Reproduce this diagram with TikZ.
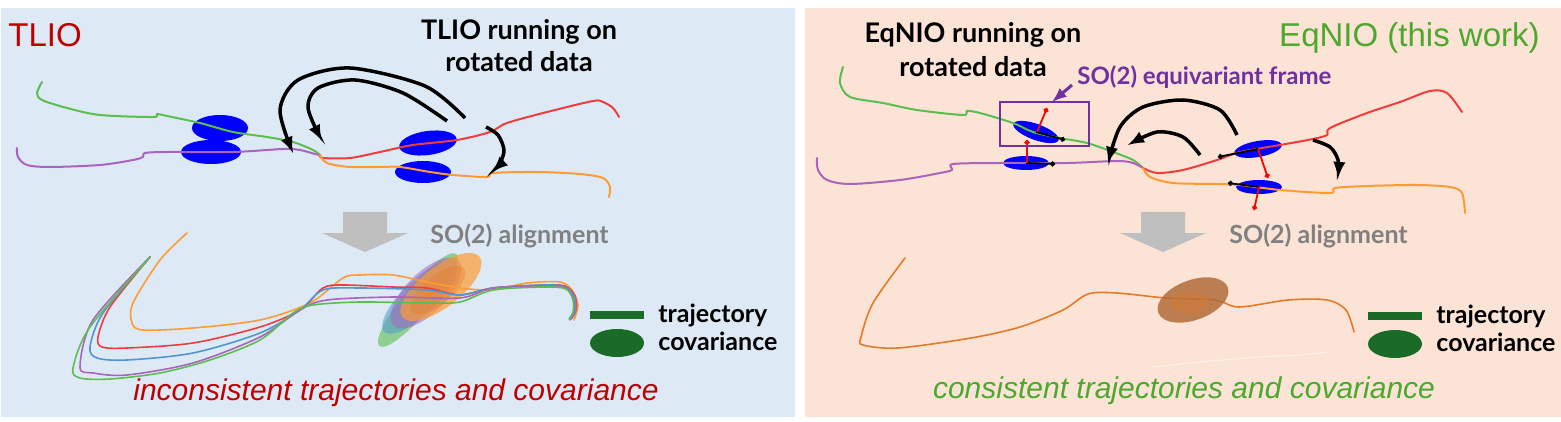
\documentclass[tikz,border=0pt]{standalone}
\usepackage{fontspec}
\usepackage{tikz}
\usetikzlibrary{arrows.meta}
\newfontfamily\arialfont{Liberation Sans}
\newfontfamily\latofont{Lato}
\definecolor{bgblue}{RGB}{221,234,246}
\definecolor{bgpeach}{RGB}{251,227,214}
\definecolor{tliored}{RGB}{192,0,0}
\definecolor{eqgreen}{RGB}{78,167,46}
\definecolor{framepurple}{RGB}{112,48,160}
\definecolor{labgray}{RGB}{128,128,128}
\definecolor{arrowgray}{RGB}{191,191,191}
\definecolor{legendgreen}{RGB}{26,107,40}
\definecolor{ellblue}{RGB}{0,0,255}
\definecolor{trajgreen}{RGB}{92,190,80}
\definecolor{trajpurple}{RGB}{170,100,190}
\definecolor{trajred}{RGB}{240,60,60}
\definecolor{trajorange}{RGB}{255,155,50}
\definecolor{trajblue}{RGB}{80,150,210}
\definecolor{deeporange}{RGB}{228,122,40}
\definecolor{covbrown}{RGB}{178,108,58}

\begin{document}
\begin{tikzpicture}[x=0.5pt,y=-0.5pt,
    traj/.style={line width=1pt, line cap=round, line join=round},
    fine traj/.style={line width=0.8pt, line cap=round, line join=round},
    bent/.style={-latex, line width=1.75pt},
    frametip/.style={-{Circle[length=2.5pt]}, line width=0.9pt},
    labtext/.style={inner sep=0pt, font=\latofont\bfseries\fontsize{13.5}{16}\selectfont},
    legtext/.style={inner sep=0pt, font=\latofont\bfseries\fontsize{12.5}{15}\selectfont},
    sotext/.style={inner sep=0pt, text=labgray, font=\latofont\bfseries\fontsize{12.5}{15}\selectfont},
    headtext/.style={inner sep=0pt, font=\arialfont\fontsize{16.5}{20}\selectfont},
    captext/.style={inner sep=0pt, font=\arialfont\itshape\fontsize{15}{18}\selectfont}]
		\useasboundingbox (0,0) rectangle (1561,422);
		\fill[white] (0,0) rectangle (1561,422);
		\fill[bgblue] (1,8) rectangle (795,417);
		\fill[bgpeach] (805,8) rectangle (1561,417);

		% gray alignment arrows and legends, one per panel
		\foreach \ax in {365,1163} {
			\fill[arrowgray, shift={(\ax,212)}] (-22,0) -- (22,0) -- (22,21) -- (43,21) -- (0,40)
			 -- (-43,21) -- (-22,21) -- cycle;
		}
		\foreach \lx/\ly/\lname in {617/315/tlio, 1395/316/eq} {
			\draw[legendgreen, line width=4pt, shift={(\lx,\ly)}] (-27,0) -- (27,0);
			\fill[legendgreen, shift={(\lx,\ly)}] (0,28) ellipse [x radius=27, y radius=14];
		    \node[legtext, anchor=base west] (\lname traj) at ({\lx+41},{\ly+7}) {trajectory};
		    \node[legtext, anchor=base west] (\lname cov) at ({\lx+41},{\ly+35}) {covariance};
		}

		% ---- TLIO panel ----
	    \node[headtext, text=tliored, anchor=base west] (tliohead) at (8,47) {TLIO};
	    \node[labtext, anchor=base] (tliolabA) at (519,40) {TLIO running on};
	    \node[labtext, anchor=base] (tliolabB) at (519,72) {rotated data};

		\fill[ellblue] (220,128) ellipse [x radius=28, y radius=13];
		\fill[ellblue] (211,152) ellipse [x radius=30, y radius=12];
		\fill[ellblue, rotate around={8:(428,143)}] (428,143) ellipse [x radius=29, y radius=12];
		\fill[ellblue] (423,172) ellipse [x radius=28, y radius=11];

		\draw[trajgreen, traj] plot[smooth, tension=0.5] coordinates {(42,82) (37,93) (42,100) (67,108) (100,115) (153,117) (157,114) (167,116) (200,123) (233,132) (267,137) (293,142) (313,150) (320,155)};
		\draw[trajpurple, traj] plot[smooth, tension=0.5] coordinates {(17,148) (18,157) (27,165) (50,167) (100,165) (133,160) (143,157) (145,153) (167,152) (233,152) (283,149) (300,150) (315,154) (320,155)};
		\draw[trajred, traj] plot[smooth, tension=0.5] coordinates {(320,155) (323,158) (350,158) (380,152) (413,145) (457,140) (490,132) (507,123) (547,112) (593,101) (603,102) (613,108) (619,117)};
		\draw[trajorange, traj] plot[smooth, tension=0.5] coordinates {(320,155) (327,163) (350,167) (380,167) (400,167) (430,172) (453,175) (487,177) (493,173) (537,172) (580,174) (603,178) (610,187) (609,197)};

		% arrows
		\draw[bent] plot[smooth] coordinates {(465,118) (425,86) (350,68) (298,80) (280,110) (293,153)};
		\draw[bent] plot[smooth] coordinates {(447,121) (403,93) (355,80) (318,88) (308,108) (322,141)};
		\draw[bent] plot[smooth] coordinates {(486,127) (498,135) (504,150) (500,163) (492,172)};

	    \node[sotext, anchor=base west] (tlioalign) at (430,243) {SO(2) alignment};

		\fill[trajgreen, fill opacity=0.6, rotate around={50:(418,300)}] (418,300) ellipse [x radius=60, y radius=14];
		\fill[trajblue, fill opacity=0.55, rotate around={44:(420,297)}] (420,297) ellipse [x radius=50, y radius=17];
		\fill[trajpurple, fill opacity=0.55, rotate around={45:(426,293)}] (426,293) ellipse [x radius=46, y radius=20];
		\fill[trajorange, fill opacity=0.7, rotate around={38:(441,287)}] (441,287) ellipse [x radius=49, y radius=20];
		\fill[deeporange, fill opacity=0.35, rotate around={40:(438,290)}] (438,290) ellipse [x radius=34, y radius=14];

		\draw[trajorange, fine traj] plot[smooth, tension=0.5] coordinates {(187,233) (160,260) (133,303) (132,323) (143,330) (193,328) (260,320) (310,303) (343,278) (360,275) (393,275) (427,282) (460,288) (493,290) (527,283) (560,282) (572,290) (578,305) (574,320)};
		\draw[trajred, fine traj] plot[smooth, tension=0.5] coordinates {(150,257) (110,307) (98,337) (102,347) (127,348) (193,343) (260,327) (300,310) (323,288) (343,285) (393,287) (427,288) (460,295) (493,288) (543,285) (565,286) (575,296) (576,310) (572,318)};
		\draw[trajblue, fine traj] plot[smooth, tension=0.5] coordinates {(150,257) (103,313) (90,347) (97,358) (127,360) (193,353) (260,333) (300,310) (323,290) (360,288) (427,290) (460,295) (493,288) (545,285) (566,287) (575,298) (575,312) (571,319)};
		\draw[trajpurple, fine traj] plot[smooth, tension=0.5] coordinates {(150,257) (93,320) (80,367) (93,373) (127,375) (193,363) (260,337) (300,310) (327,300) (393,297) (460,298) (493,288) (545,286) (567,288) (574,300) (574,312) (570,320)};
		\draw[trajgreen, fine traj] plot[smooth, tension=0.5] coordinates {(150,257) (90,327) (73,368) (80,378) (110,379) (160,373) (210,360) (260,340) (293,313) (313,305) (360,302) (427,303) (460,302) (493,290) (545,287) (566,289) (573,300) (573,312) (569,319)};

	    \node[captext, text=tliored, anchor=base] (tliocap) at (396,400) {inconsistent trajectories and covariance};

		% ---- EqNIO panel ----
	    \node[headtext, text=eqgreen, anchor=base east] (eqhead) at (1540,47) {EqNIO (this work)};
	    \node[labtext, anchor=base] (eqlabA) at (973,43) {EqNIO running on};
	    \node[labtext, anchor=base] (eqlabB) at (973,77) {rotated data};
	    \node[labtext, text=framepurple, anchor=base west, font=\latofont\bfseries\fontsize{12}{14}\selectfont] (framelab) at (1077,85) {SO(2) equivariant frame};

		\fill[ellblue, rotate around={-20:(1036,132)}] (1036,132) ellipse [x radius=24, y radius=8];
		\fill[ellblue] (1026,163) ellipse [x radius=23, y radius=7];
		\fill[ellblue, rotate around={10:(1258,149)}] (1258,149) ellipse [x radius=24, y radius=8];
		\fill[ellblue] (1259,187) ellipse [x radius=23, y radius=7];

		\draw[trajgreen, traj] plot[smooth, tension=0.5] coordinates {(843,67) (840,83) (850,97) (883,103) (917,110) (963,115) (967,111) (980,113) (1013,123) (1033,132) (1060,138) (1087,143) (1113,152) (1133,160) (1143,168)};
		\draw[trajpurple, traj] plot[smooth, tension=0.5] coordinates {(817,158) (818,170) (827,180) (850,184) (900,180) (940,173) (952,170) (953,164) (1000,163) (1067,163) (1117,161) (1133,163) (1143,168)};
		\draw[trajred, traj] plot[smooth, tension=0.5] coordinates {(1143,168) (1157,173) (1183,170) (1217,160) (1240,152) (1280,145) (1313,139) (1327,135) (1330,128) (1367,113) (1400,102) (1430,91) (1447,93) (1462,112)};
		\draw[trajorange, traj] plot[smooth, tension=0.5] coordinates {(1143,168) (1150,177) (1173,183) (1217,184) (1240,185) (1280,190) (1330,193) (1335,188) (1367,186) (1417,185) (1450,187) (1462,193) (1465,213)};

		% frames on the ellipses
		\draw[frametip] (1036,132) -- (1065,140);
		\draw[frametip] (1026,163) -- (1055,164);
		\draw[frametip] (1258,149) -- (1218,157);
		\draw[frametip] (1259,187) -- (1228,183);
		\draw[frametip, red] (1037,132) -- (1047,108);
		\draw[frametip, red] (1027,163) -- (1027,140);
		\draw[frametip, red] (1258,149) -- (1268,178);
		\draw[frametip, red] (1259,187) -- (1254,210);

		\node[draw=framepurple, line width=1.4pt, minimum width=44.5pt, minimum height=22pt, inner sep=0pt] (framebox) at (1044.5,124) {};
		\coordinate (frametop) at (1052,102);
		\draw[-latex, framepurple, line width=1.5pt] (1072,85) -- (frametop);

		% arrows
		\draw[bent] plot[smooth] coordinates {(1237,135) (1220,110) (1183,100) (1143,107) (1120,127) (1108,163)};
		\draw[bent] plot[smooth] coordinates {(1200,155) (1183,137) (1157,132) (1128,145)};
		\draw[bent] plot[smooth] coordinates {(1313,140) (1330,147) (1338,160) (1338,178)};

	    \node[sotext, anchor=base west] (eqalign) at (1229,243) {SO(2) alignment};

		\draw[deeporange, fine traj] plot[smooth, tension=0.5] coordinates {(905,258) (873,303) (861,337) (863,345) (898,348) (971,338) (1020,327) (1063,310) (1088,294) (1117,293) (1166,298) (1215,300) (1239,307) (1288,300) (1327,300) (1346,310) (1354,332)};
		\fill[covbrown, fill opacity=0.85, rotate around={20:(1193,300)}] (1193,300) ellipse [x radius=37, y radius=20];
		\fill[deeporange, fill opacity=0.3] (1190,303) ellipse [x radius=20, y radius=11];
		\draw[white, opacity=0.6, line width=0.5pt] plot[smooth] coordinates {(1152,367) (1200,362) (1260,357) (1300,355) (1327,352)};

	    \node[captext, text=eqgreen, anchor=base] (eqcap) at (1184,398) {consistent trajectories and covariance};
\end{tikzpicture}
\end{document}
